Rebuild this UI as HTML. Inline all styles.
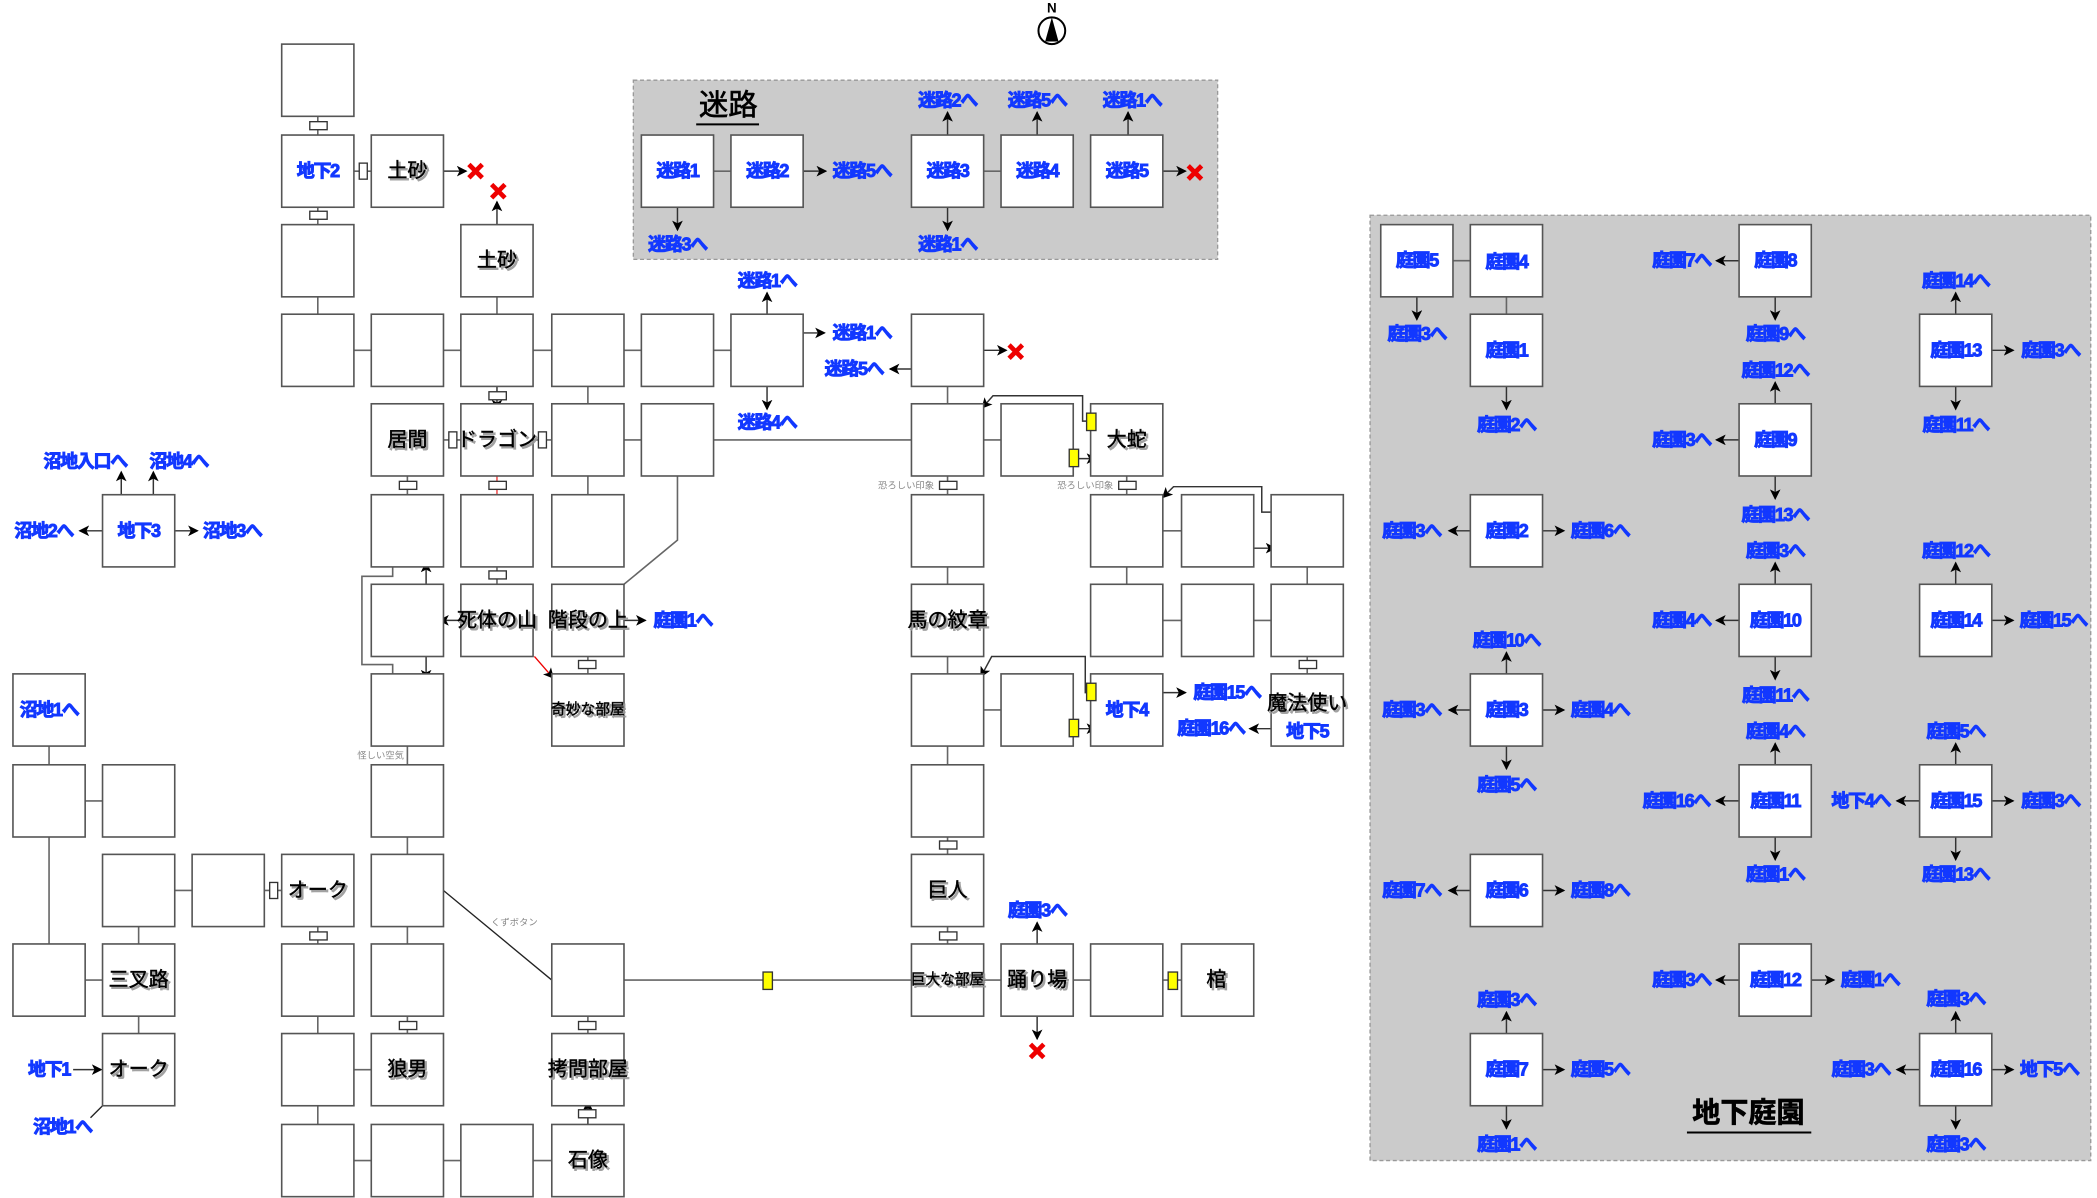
<!DOCTYPE html>
<html><head><meta charset="utf-8"><style>
html,body{margin:0;padding:0;background:#fff;}
svg{display:block;}
.b{fill:#fff;stroke:#555;stroke-width:1.2;}
.l{stroke:#666;stroke-width:1.2;fill:none;}
.a{stroke:#333;stroke-width:1.1;fill:none;marker-end:url(#ar);}
.d{fill:#fff;stroke:#333;stroke-width:1;}
.y{fill:#ff0;stroke:#333;stroke-width:1;}
.t{font-family:"Liberation Sans","Noto Sans CJK JP",sans-serif;font-size:15px;fill:#000;stroke:#000;stroke-width:0.3;text-anchor:middle;dominant-baseline:central;}
.ts{font-family:"Liberation Sans","Noto Sans CJK JP",sans-serif;font-size:15px;fill:#999;stroke:#999;stroke-width:0.8;text-anchor:middle;dominant-baseline:central;}
.u{font-family:"Liberation Sans","Noto Sans CJK JP",sans-serif;font-size:13.5px;font-weight:bold;fill:#1238ff;stroke:#1238ff;stroke-width:0.7;text-anchor:middle;dominant-baseline:central;letter-spacing:-1px;}
.s{font-family:"Liberation Sans","Noto Sans CJK JP",sans-serif;font-size:7px;fill:#888;text-anchor:middle;dominant-baseline:central;}
.x{stroke:#e00;stroke-width:3.5;stroke-linecap:butt;}
</style></head><body>
<svg width="2097" height="1198" viewBox="0 0 1563 896" xmlns="http://www.w3.org/2000/svg">
<defs>
<marker id="ar" markerWidth="8" markerHeight="8" refX="7" refY="4" orient="auto" markerUnits="userSpaceOnUse"><path d="M0,0 L8,4 L0,8 L2,4 z" fill="#000"/></marker>
<g id="X"><path class="x" d="M-5,-5 L5,5 M5,-5 L-5,5"/></g>
</defs>

<!-- compass -->
<circle cx="784" cy="23" r="10" fill="#fff" stroke="#000" stroke-width="1.5"/>
<path d="M784,13 L779,31 L789,31 z" fill="#000"/>
<text x="784" y="6" font-family="Liberation Sans" font-size="10" font-weight="bold" text-anchor="middle" dominant-baseline="central">N</text>

<!-- maze panel -->
<rect x="471" y="60" width="437" height="134" fill="#cbcbcb" stroke="#999" stroke-dasharray="3,2"/>
<text x="542" y="79" font-family="Liberation Sans,Noto Sans CJK JP,sans-serif" font-size="22" stroke="#000" stroke-width="0.5" text-anchor="middle" dominant-baseline="central">迷路</text>
<line x1="518" y1="93" x2="565" y2="93" stroke="#000" stroke-width="1.5"/>
<line class="l" x1="531" y1="128" x2="544" y2="128"/>
<line class="l" x1="733" y1="128" x2="746" y2="128"/>
<line class="a" x1="504" y1="155" x2="504" y2="172"/>
<line class="a" x1="598" y1="128" x2="615" y2="128"/>
<line class="a" x1="706" y1="101" x2="706" y2="84"/>
<line class="a" x1="706" y1="155" x2="706" y2="172"/>
<line class="a" x1="773" y1="101" x2="773" y2="84"/>
<line class="a" x1="841" y1="101" x2="841" y2="84"/>
<line class="a" x1="867" y1="128" x2="884" y2="128"/>
<use href="#X" x="891" y="129"/>
<rect class="b" x="477" y="101" width="54" height="54"/><text class="u" x="504" y="128">迷路1</text>
<rect class="b" x="544" y="101" width="54" height="54"/><text class="u" x="571" y="128">迷路2</text>
<rect class="b" x="679" y="101" width="54" height="54"/><text class="u" x="706" y="128">迷路3</text>
<rect class="b" x="746" y="101" width="54" height="54"/><text class="u" x="773" y="128">迷路4</text>
<rect class="b" x="813" y="101" width="54" height="54"/><text class="u" x="840" y="128">迷路5</text>
<text class="u" x="504" y="183">迷路3へ</text>
<text class="u" x="642" y="128">迷路5へ</text>
<text class="u" x="706" y="75">迷路2へ</text>
<text class="u" x="706" y="183">迷路1へ</text>
<text class="u" x="773" y="75">迷路5へ</text>
<text class="u" x="844" y="75">迷路1へ</text>

<!-- garden panel -->
<rect x="1022" y="161" width="539" height="707" fill="#cbcbcb" stroke="#999" stroke-dasharray="3,2"/>
<text x="1305" y="832" font-family="Liberation Sans,Noto Sans CJK JP,sans-serif" font-size="21" font-weight="bold" stroke="#000" stroke-width="0.5" text-anchor="middle" dominant-baseline="central">地下庭園</text>
<line x1="1259" y1="847" x2="1352" y2="847" stroke="#000" stroke-width="1.5"/>
<g>
<line class="l" x1="1084" y1="195" x2="1097" y2="195"/>
<line class="l" x1="1124" y1="222" x2="1124" y2="235"/>
<line class="a" x1="1057" y1="222" x2="1057" y2="239"/>
<line class="a" x1="1124" y1="289" x2="1124" y2="306"/>
<line class="a" x1="1298" y1="195" x2="1281" y2="195"/>
<line class="a" x1="1325" y1="222" x2="1325" y2="239"/>
<line class="a" x1="1325" y1="302" x2="1325" y2="286"/>
<line class="a" x1="1298" y1="329" x2="1281" y2="329"/>
<line class="a" x1="1325" y1="356" x2="1325" y2="373"/>
<line class="a" x1="1460" y1="235" x2="1460" y2="219"/>
<line class="a" x1="1487" y1="262" x2="1503" y2="262"/>
<line class="a" x1="1460" y1="289" x2="1460" y2="306"/>
<line class="a" x1="1097" y1="397" x2="1081" y2="397"/>
<line class="a" x1="1151" y1="397" x2="1167" y2="397"/>
<line class="a" x1="1325" y1="437" x2="1325" y2="421"/>
<line class="a" x1="1298" y1="464" x2="1281" y2="464"/>
<line class="a" x1="1325" y1="491" x2="1325" y2="508"/>
<line class="a" x1="1460" y1="437" x2="1460" y2="421"/>
<line class="a" x1="1487" y1="464" x2="1503" y2="464"/>
<line class="a" x1="1124" y1="504" x2="1124" y2="488"/>
<line class="a" x1="1097" y1="531" x2="1081" y2="531"/>
<line class="a" x1="1151" y1="531" x2="1167" y2="531"/>
<line class="a" x1="1124" y1="558" x2="1124" y2="575"/>
<line class="a" x1="1325" y1="572" x2="1325" y2="556"/>
<line class="a" x1="1298" y1="599" x2="1281" y2="599"/>
<line class="a" x1="1325" y1="626" x2="1325" y2="643"/>
<line class="a" x1="1460" y1="572" x2="1460" y2="556"/>
<line class="a" x1="1433" y1="599" x2="1416" y2="599"/>
<line class="a" x1="1487" y1="599" x2="1503" y2="599"/>
<line class="a" x1="1460" y1="626" x2="1460" y2="643"/>
<line class="a" x1="1097" y1="666" x2="1081" y2="666"/>
<line class="a" x1="1151" y1="666" x2="1167" y2="666"/>
<line class="a" x1="1298" y1="733" x2="1281" y2="733"/>
<line class="a" x1="1352" y1="733" x2="1369" y2="733"/>
<line class="a" x1="1124" y1="773" x2="1124" y2="757"/>
<line class="a" x1="1151" y1="800" x2="1167" y2="800"/>
<line class="a" x1="1124" y1="827" x2="1124" y2="844"/>
<line class="a" x1="1460" y1="773" x2="1460" y2="757"/>
<line class="a" x1="1433" y1="800" x2="1416" y2="800"/>
<line class="a" x1="1487" y1="800" x2="1503" y2="800"/>
<line class="a" x1="1460" y1="827" x2="1460" y2="844"/>
</g>
<rect class="b" x="1030" y="168" width="54" height="54"/><text class="u" x="1057" y="195">庭園5</text>
<rect class="b" x="1097" y="168" width="54" height="54"/><text class="u" x="1124" y="196">庭園4</text>
<rect class="b" x="1298" y="168" width="54" height="54"/><text class="u" x="1325" y="195">庭園8</text>
<rect class="b" x="1097" y="235" width="54" height="54"/><text class="u" x="1124" y="262">庭園1</text>
<rect class="b" x="1433" y="235" width="54" height="54"/><text class="u" x="1460" y="262">庭園13</text>
<rect class="b" x="1298" y="302" width="54" height="54"/><text class="u" x="1325" y="329">庭園9</text>
<rect class="b" x="1097" y="370" width="54" height="54"/><text class="u" x="1124" y="397">庭園2</text>
<rect class="b" x="1298" y="437" width="54" height="54"/><text class="u" x="1325" y="464">庭園10</text>
<rect class="b" x="1433" y="437" width="54" height="54"/><text class="u" x="1460" y="464">庭園14</text>
<rect class="b" x="1097" y="504" width="54" height="54"/><text class="u" x="1124" y="531">庭園3</text>
<rect class="b" x="1298" y="572" width="54" height="54"/><text class="u" x="1325" y="599">庭園11</text>
<rect class="b" x="1433" y="572" width="54" height="54"/><text class="u" x="1460" y="599">庭園15</text>
<rect class="b" x="1097" y="639" width="54" height="54"/><text class="u" x="1124" y="666">庭園6</text>
<rect class="b" x="1298" y="706" width="54" height="54"/><text class="u" x="1325" y="733">庭園12</text>
<rect class="b" x="1097" y="773" width="54" height="54"/><text class="u" x="1124" y="800">庭園7</text>
<rect class="b" x="1433" y="773" width="54" height="54"/><text class="u" x="1460" y="800">庭園16</text>
<text class="u" x="1057" y="250">庭園3へ</text>
<text class="u" x="1124" y="318">庭園2へ</text>
<text class="u" x="1255" y="195">庭園7へ</text>
<text class="u" x="1325" y="250">庭園9へ</text>
<text class="u" x="1325" y="277">庭園12へ</text>
<text class="u" x="1255" y="329">庭園3へ</text>
<text class="u" x="1325" y="385">庭園13へ</text>
<text class="u" x="1460" y="210">庭園14へ</text>
<text class="u" x="1531" y="262">庭園3へ</text>
<text class="u" x="1460" y="318">庭園11へ</text>
<text class="u" x="1053" y="397">庭園3へ</text>
<text class="u" x="1194" y="397">庭園6へ</text>
<text class="u" x="1325" y="412">庭園3へ</text>
<text class="u" x="1255" y="464">庭園4へ</text>
<text class="u" x="1325" y="520">庭園11へ</text>
<text class="u" x="1460" y="412">庭園12へ</text>
<text class="u" x="1533" y="464">庭園15へ</text>
<text class="u" x="1124" y="479">庭園10へ</text>
<text class="u" x="1053" y="531">庭園3へ</text>
<text class="u" x="1194" y="531">庭園4へ</text>
<text class="u" x="1124" y="587">庭園5へ</text>
<text class="u" x="1325" y="547">庭園4へ</text>
<text class="u" x="1251" y="599">庭園16へ</text>
<text class="u" x="1325" y="654">庭園1へ</text>
<text class="u" x="1460" y="547">庭園5へ</text>
<text class="u" x="1389" y="599">地下4へ</text>
<text class="u" x="1531" y="599">庭園3へ</text>
<text class="u" x="1460" y="654">庭園13へ</text>
<text class="u" x="1053" y="666">庭園7へ</text>
<text class="u" x="1194" y="666">庭園8へ</text>
<text class="u" x="1255" y="733">庭園3へ</text>
<text class="u" x="1396" y="733">庭園1へ</text>
<text class="u" x="1124" y="748">庭園3へ</text>
<text class="u" x="1194" y="800">庭園5へ</text>
<text class="u" x="1124" y="856">庭園1へ</text>
<text class="u" x="1460" y="747">庭園3へ</text>
<text class="u" x="1389" y="800">庭園3へ</text>
<text class="u" x="1530" y="800">地下5へ</text>
<text class="u" x="1460" y="856">庭園3へ</text>

<!-- main map connections -->
<g>
<line class="l" x1="235" y1="87" x2="235" y2="101"/>
<line class="l" x1="262" y1="128" x2="275" y2="128"/>
<line class="a" x1="329" y1="128" x2="346" y2="128"/>
<line class="l" x1="235" y1="155" x2="235" y2="168"/>
<line class="a" x1="369" y1="168" x2="369" y2="151"/>
<line class="l" x1="235" y1="222" x2="235" y2="235"/>
<line class="l" x1="369" y1="222" x2="369" y2="235"/>
<line class="l" x1="262" y1="262" x2="275" y2="262"/>
<line class="l" x1="329" y1="262" x2="342" y2="262"/>
<line class="l" x1="396" y1="262" x2="410" y2="262"/>
<line class="l" x1="464" y1="262" x2="477" y2="262"/>
<line class="l" x1="531" y1="262" x2="544" y2="262"/>
<line class="a" x1="571" y1="235" x2="571" y2="219"/>
<line class="a" x1="598" y1="249" x2="614" y2="249"/>
<line class="a" x1="571" y1="289" x2="571" y2="306"/>
<line class="a" x1="733" y1="262" x2="750" y2="262"/>
<line class="a" x1="679" y1="276" x2="663" y2="276"/>
<use href="#X" x="757" y="263"/>
<line class="l" x1="706" y1="289" x2="706" y2="302"/>
<line class="a" x1="369" y1="289" x2="369" y2="306"/>
<line class="l" x1="437" y1="289" x2="437" y2="302"/>
<line class="l" x1="329" y1="329" x2="342" y2="329"/>
<line class="l" x1="396" y1="329" x2="410" y2="329"/>
<line class="l" x1="464" y1="329" x2="477" y2="329"/>
<line class="l" x1="531" y1="329" x2="679" y2="329"/>
<line class="l" x1="733" y1="329" x2="746" y2="329"/>
<polyline class="a" points="810,315 807,315 807,296 740,296 732,305"/>
<line class="a" x1="803" y1="343" x2="817" y2="343"/>
<line class="l" x1="302" y1="356" x2="302" y2="370"/>
<line x1="369" y1="356" x2="369" y2="370" stroke="#e33" stroke-width="1"/>
<line class="l" x1="437" y1="356" x2="437" y2="370"/>
<line class="l" x1="706" y1="356" x2="706" y2="370"/>
<line class="l" x1="840" y1="356" x2="840" y2="370"/>
<polyline class="a" points="948,383 941,383 941,364 875,364 867,372"/>
<line class="l" x1="867" y1="397" x2="881" y2="397"/>
<line class="a" x1="935" y1="410" x2="951" y2="410"/>
<line class="a" x1="316" y1="437" x2="316" y2="421"/>
<polyline class="l" points="291,424 291,431 268,431 268,497 291,497 291,504"/>
<line class="a" x1="316" y1="491" x2="316" y2="508"/>
<line class="a" x1="342" y1="464" x2="326" y2="464"/>
<line class="l" x1="369" y1="424" x2="369" y2="437"/>
<polyline class="l" points="504,356 504,404 464,437"/>
<line class="a" x1="464" y1="464" x2="480" y2="464"/>
<line x1="397" y1="491" x2="411" y2="507" stroke="#e00" stroke-width="1" marker-end="url(#ar)"/>
<line class="l" x1="437" y1="491" x2="437" y2="504"/>
<line class="l" x1="706" y1="424" x2="706" y2="437"/>
<line class="l" x1="706" y1="491" x2="706" y2="504"/>
<line class="l" x1="840" y1="424" x2="840" y2="437"/>
<line class="l" x1="975" y1="424" x2="975" y2="437"/>
<line class="l" x1="867" y1="464" x2="881" y2="464"/>
<line class="l" x1="935" y1="464" x2="948" y2="464"/>
<line class="l" x1="975" y1="491" x2="975" y2="504"/>
<line class="l" x1="733" y1="531" x2="746" y2="531"/>
<polyline class="a" points="810,518 809,518 809,491 739,491 731,506"/>
<line class="a" x1="803" y1="545" x2="817" y2="545"/>
<line class="a" x1="867" y1="518" x2="884" y2="518"/>
<line class="a" x1="948" y1="545" x2="932" y2="545"/>
<line class="l" x1="706" y1="558" x2="706" y2="572"/>
<line class="l" x1="706" y1="626" x2="706" y2="639"/>
<line class="l" x1="706" y1="693" x2="706" y2="706"/>
<line class="l" x1="733" y1="733" x2="746" y2="733"/>
<line class="l" x1="800" y1="733" x2="813" y2="733"/>
<line class="l" x1="867" y1="733" x2="881" y2="733"/>
<line class="a" x1="773" y1="706" x2="773" y2="690"/>
<line class="a" x1="773" y1="760" x2="773" y2="777"/>
<use href="#X" x="773" y="786"/>
<line class="l" x1="464" y1="733" x2="679" y2="733"/>
<line class="l" x1="302" y1="558" x2="302" y2="572"/>
<line class="l" x1="302" y1="626" x2="302" y2="639"/>
<line class="l" x1="302" y1="693" x2="302" y2="706"/>
<line x1="329" y1="666" x2="410" y2="733" stroke="#222" stroke-width="1"/>
<line class="l" x1="195" y1="666" x2="208" y2="666"/>
<line class="l" x1="128" y1="666" x2="141" y2="666"/>
<line class="l" x1="235" y1="693" x2="235" y2="706"/>
<line class="l" x1="302" y1="760" x2="302" y2="773"/>
<line class="l" x1="235" y1="760" x2="235" y2="773"/>
<line class="l" x1="262" y1="800" x2="275" y2="800"/>
<line class="l" x1="235" y1="827" x2="235" y2="841"/>
<line class="l" x1="437" y1="760" x2="437" y2="773"/>
<line class="a" x1="437" y1="841" x2="437" y2="824"/>
<line class="l" x1="262" y1="868" x2="275" y2="868"/>
<line class="l" x1="329" y1="868" x2="342" y2="868"/>
<line class="l" x1="396" y1="868" x2="410" y2="868"/>
<line class="l" x1="34" y1="558" x2="34" y2="572"/>
<line class="l" x1="61" y1="599" x2="74" y2="599"/>
<line class="l" x1="34" y1="626" x2="34" y2="706"/>
<line class="l" x1="61" y1="733" x2="74" y2="733"/>
<line class="l" x1="101" y1="693" x2="101" y2="706"/>
<line class="l" x1="101" y1="760" x2="101" y2="773"/>
<line class="a" x1="52" y1="800" x2="73" y2="800"/>
<line x1="74" y1="827" x2="65" y2="836" stroke="#222" stroke-width="1"/>
<line class="a" x1="88" y1="370" x2="88" y2="353"/>
<line class="a" x1="112" y1="370" x2="112" y2="353"/>
<line class="a" x1="74" y1="397" x2="57" y2="397"/>
<line class="a" x1="128" y1="397" x2="145" y2="397"/>
</g>
<use href="#X" x="353" y="128"/>
<use href="#X" x="370" y="143"/>

<!-- boxes -->
<g>
<rect class="b" x="208" y="33" width="54" height="54"/>
<rect class="b" x="208" y="101" width="54" height="54"/>
<rect class="b" x="275" y="101" width="54" height="54"/>
<rect class="b" x="208" y="168" width="54" height="54"/>
<rect class="b" x="342" y="168" width="54" height="54"/>
<rect class="b" x="208" y="235" width="54" height="54"/>
<rect class="b" x="275" y="235" width="54" height="54"/>
<rect class="b" x="342" y="235" width="54" height="54"/>
<rect class="b" x="410" y="235" width="54" height="54"/>
<rect class="b" x="477" y="235" width="54" height="54"/>
<rect class="b" x="544" y="235" width="54" height="54"/>
<rect class="b" x="679" y="235" width="54" height="54"/>
<rect class="b" x="275" y="302" width="54" height="54"/>
<rect class="b" x="342" y="302" width="54" height="54"/>
<rect class="b" x="410" y="302" width="54" height="54"/>
<rect class="b" x="477" y="302" width="54" height="54"/>
<rect class="b" x="679" y="302" width="54" height="54"/>
<rect class="b" x="746" y="302" width="54" height="54"/>
<rect class="b" x="813" y="302" width="54" height="54"/>
<rect class="b" x="74" y="370" width="54" height="54"/>
<rect class="b" x="275" y="370" width="54" height="54"/>
<rect class="b" x="342" y="370" width="54" height="54"/>
<rect class="b" x="410" y="370" width="54" height="54"/>
<rect class="b" x="679" y="370" width="54" height="54"/>
<rect class="b" x="813" y="370" width="54" height="54"/>
<rect class="b" x="881" y="370" width="54" height="54"/>
<rect class="b" x="948" y="370" width="54" height="54"/>
<rect class="b" x="275" y="437" width="54" height="54"/>
<rect class="b" x="342" y="437" width="54" height="54"/>
<rect class="b" x="410" y="437" width="54" height="54"/>
<rect class="b" x="679" y="437" width="54" height="54"/>
<rect class="b" x="813" y="437" width="54" height="54"/>
<rect class="b" x="881" y="437" width="54" height="54"/>
<rect class="b" x="948" y="437" width="54" height="54"/>
<rect class="b" x="7" y="504" width="54" height="54"/>
<rect class="b" x="275" y="504" width="54" height="54"/>
<rect class="b" x="410" y="504" width="54" height="54"/>
<rect class="b" x="679" y="504" width="54" height="54"/>
<rect class="b" x="746" y="504" width="54" height="54"/>
<rect class="b" x="813" y="504" width="54" height="54"/>
<rect class="b" x="948" y="504" width="54" height="54"/>
<rect class="b" x="7" y="572" width="54" height="54"/>
<rect class="b" x="74" y="572" width="54" height="54"/>
<rect class="b" x="275" y="572" width="54" height="54"/>
<rect class="b" x="679" y="572" width="54" height="54"/>
<rect class="b" x="74" y="639" width="54" height="54"/>
<rect class="b" x="141" y="639" width="54" height="54"/>
<rect class="b" x="208" y="639" width="54" height="54"/>
<rect class="b" x="275" y="639" width="54" height="54"/>
<rect class="b" x="679" y="639" width="54" height="54"/>
<rect class="b" x="7" y="706" width="54" height="54"/>
<rect class="b" x="74" y="706" width="54" height="54"/>
<rect class="b" x="208" y="706" width="54" height="54"/>
<rect class="b" x="275" y="706" width="54" height="54"/>
<rect class="b" x="410" y="706" width="54" height="54"/>
<rect class="b" x="679" y="706" width="54" height="54"/>
<rect class="b" x="746" y="706" width="54" height="54"/>
<rect class="b" x="813" y="706" width="54" height="54"/>
<rect class="b" x="881" y="706" width="54" height="54"/>
<rect class="b" x="74" y="773" width="54" height="54"/>
<rect class="b" x="208" y="773" width="54" height="54"/>
<rect class="b" x="275" y="773" width="54" height="54"/>
<rect class="b" x="410" y="773" width="54" height="54"/>
<rect class="b" x="208" y="841" width="54" height="54"/>
<rect class="b" x="275" y="841" width="54" height="54"/>
<rect class="b" x="342" y="841" width="54" height="54"/>
<rect class="b" x="410" y="841" width="54" height="54"/>
</g>

<!-- doors -->
<rect class="d" x="229" y="91" width="13" height="6"/>
<rect class="d" x="266" y="122" width="6" height="12"/>
<rect class="d" x="229" y="158" width="13" height="6"/>
<rect class="d" x="363" y="293" width="13" height="6"/>
<rect class="d" x="333" y="323" width="6" height="12"/>
<rect class="d" x="400" y="323" width="6" height="12"/>
<rect class="d" x="296" y="360" width="13" height="6"/>
<rect class="d" x="363" y="360" width="13" height="6"/>
<rect class="d" x="700" y="360" width="13" height="6"/>
<rect class="d" x="834" y="360" width="13" height="6"/>
<rect class="d" x="363" y="427" width="13" height="6"/>
<rect class="d" x="430" y="494" width="13" height="6"/>
<rect class="d" x="969" y="494" width="13" height="6"/>
<rect class="d" x="700" y="629" width="13" height="6"/>
<rect class="d" x="700" y="697" width="13" height="6"/>
<rect class="d" x="199" y="660" width="6" height="12"/>
<rect class="d" x="229" y="697" width="13" height="6"/>
<rect class="d" x="296" y="764" width="13" height="6"/>
<rect class="d" x="430" y="764" width="13" height="6"/>
<rect class="d" x="430" y="830" width="13" height="6"/>
<!-- yellow -->
<rect class="y" x="810" y="309" width="7" height="13"/>
<rect class="y" x="797" y="336" width="7" height="13"/>
<rect class="y" x="810" y="511" width="7" height="13"/>
<rect class="y" x="797" y="538" width="7" height="13"/>
<rect class="y" x="568" y="727" width="7" height="13"/>
<rect class="y" x="871" y="727" width="7" height="13"/>

<!-- small labels -->
<text class="s" x="675" y="363">恐ろしい印象</text>
<text class="s" x="809" y="363">恐ろしい印象</text>
<text class="s" x="282" y="565">怪しい空気</text>
<text class="s" x="382" y="690">くずボタン</text>

<!-- black labels (shadow + text) -->
<g transform="translate(1.5,1.5)" style="opacity:.9">
<text class="ts" x="302" y="128">土砂</text>
<text class="ts" x="369" y="195">土砂</text>
<text class="ts" x="302" y="329">居間</text>
<text class="ts" x="369" y="329">ドラゴン</text>
<text class="ts" x="840" y="329">大蛇</text>
<text class="ts" x="369" y="464">死体の山</text>
<text class="ts" x="437" y="464">階段の上</text>
<text class="ts" x="706" y="464">馬の紋章</text>
<text class="ts" x="437" y="531" style="font-size:11px">奇妙な部屋</text>
<text class="ts" x="975" y="526">魔法使い</text>
<text class="ts" x="235" y="666">オーク</text>
<text class="ts" x="706" y="666">巨人</text>
<text class="ts" x="101" y="733">三叉路</text>
<text class="ts" x="706" y="733" style="font-size:11px">巨大な部屋</text>
<text class="ts" x="773" y="733">踊り場</text>
<text class="ts" x="907" y="733">棺</text>
<text class="ts" x="101" y="800">オーク</text>
<text class="ts" x="302" y="800">狼男</text>
<text class="ts" x="437" y="800">拷問部屋</text>
<text class="ts" x="437" y="868">石像</text>
</g>
<text class="t" x="302" y="128">土砂</text>
<text class="t" x="369" y="195">土砂</text>
<text class="t" x="302" y="329">居間</text>
<text class="t" x="369" y="329">ドラゴン</text>
<text class="t" x="840" y="329">大蛇</text>
<text class="t" x="369" y="464">死体の山</text>
<text class="t" x="437" y="464">階段の上</text>
<text class="t" x="706" y="464">馬の紋章</text>
<text class="t" x="437" y="531" style="font-size:11px">奇妙な部屋</text>
<text class="t" x="975" y="526">魔法使い</text>
<text class="t" x="235" y="666">オーク</text>
<text class="t" x="706" y="666">巨人</text>
<text class="t" x="101" y="733">三叉路</text>
<text class="t" x="706" y="733" style="font-size:11px">巨大な部屋</text>
<text class="t" x="773" y="733">踊り場</text>
<text class="t" x="907" y="733">棺</text>
<text class="t" x="101" y="800">オーク</text>
<text class="t" x="302" y="800">狼男</text>
<text class="t" x="437" y="800">拷問部屋</text>
<text class="t" x="437" y="868">石像</text>

<!-- blue labels main -->
<text class="u" x="235" y="128">地下2</text>
<text class="u" x="101" y="397">地下3</text>
<text class="u" x="840" y="531">地下4</text>
<text class="u" x="975" y="547">地下5</text>
<text class="u" x="34" y="531">沼地1へ</text>
<text class="u" x="61" y="345">沼地入口へ</text>
<text class="u" x="131" y="345">沼地4へ</text>
<text class="u" x="30" y="397">沼地2へ</text>
<text class="u" x="171" y="397">沼地3へ</text>
<text class="u" x="571" y="210">迷路1へ</text>
<text class="u" x="642" y="249">迷路1へ</text>
<text class="u" x="636" y="276">迷路5へ</text>
<text class="u" x="571" y="316">迷路4へ</text>
<text class="u" x="508" y="464">庭園1へ</text>
<text class="u" x="915" y="518">庭園15へ</text>
<text class="u" x="903" y="545">庭園16へ</text>
<text class="u" x="773" y="681">庭園3へ</text>
<text class="u" x="34" y="800">地下1</text>
<text class="u" x="44" y="843">沼地1へ</text>
</svg>
</body></html>
